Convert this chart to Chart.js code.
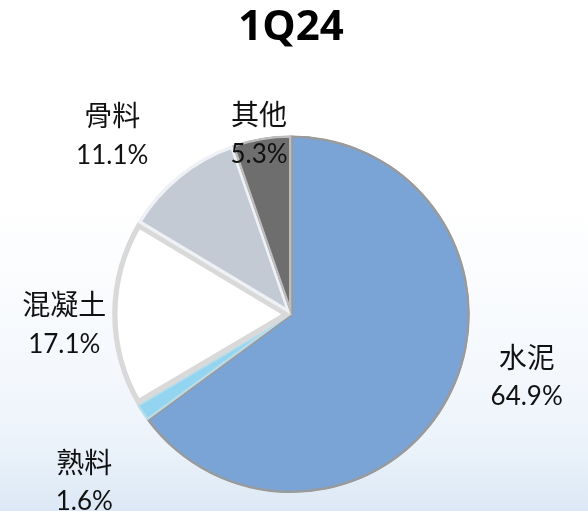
<!DOCTYPE html>
<html lang="zh-Hant">
  <head>
    <meta charset="UTF-8">
    <script src="https://cdn.jsdelivr.net/npm/chart.js"></script>
    <style>
      html, body {
        margin: 0;
        padding: 0;
      }
      body {
        width: 588px;
        height: 511px;
        background: linear-gradient(to bottom, #ffffff 0%, #ffffff 40%, #f3f7fc 75%, #eaf2fa 88%, #dce8f5 100%);
      }
      #mixChart {
        display: block;
      }
    </style>
  </head>
  <body>
    <canvas id="mixChart" width="588" height="511"></canvas>

    <script>
      // 1Q24 revenue mix
      const categories = ['水泥', '熟料', '混凝土', '骨料', '其他'];
      const shares = [64.9, 1.6, 17.1, 11.1, 5.3];
      const shareLabels = ['64.9%', '1.6%', '17.1%', '11.1%', '5.3%'];

      const sliceColors = ['#7ba4d6', '#93d5f1', '#ffffff', '#c3cad4', '#6e6e6e'];
      const sliceBorders = ['#9a9a9a', '#b8dbe8', '#d9d9d9', '#eef1f5', '#bdbdbd'];
      const sliceBorderWidths = [2, 2, 5, 3, 2];

      // label block centres, in units of the pie radius from the pie centre
      const labelSpots = [
        [1.318, 0.346],
        [-1.156, 0.933],
        [-1.268, 0.05],
        [-1.0, -1.006],
        [-0.179, -1.011]
      ];

      const labelPlugin = {
        id: 'sliceLabels',
        afterDatasetsDraw(chart) {
          const ctx = chart.ctx;
          const meta = chart.getDatasetMeta(0);
          ctx.save();
          ctx.textAlign = 'center';
          ctx.textBaseline = 'middle';
          ctx.fillStyle = '#111111';
          meta.data.forEach(function (arc, i) {
            const r = arc.outerRadius;
            const cx = arc.x + labelSpots[i][0] * r;
            const cy = arc.y + labelSpots[i][1] * r;
            ctx.font = '28px "Noto Sans CJK TC"';
            ctx.fillText(categories[i], cx, cy - 19);
            ctx.font = '26px Lato';
            ctx.fillText(shareLabels[i], cx, cy + 21);
          });
          ctx.restore();
        }
      };

      const ctx = document.getElementById('mixChart').getContext('2d');

      new Chart(ctx, {
        type: 'pie',
        data: {
          labels: categories,
          datasets: [{
            data: shares,
            backgroundColor: sliceColors,
            borderColor: sliceBorders,
            borderWidth: sliceBorderWidths,
            borderAlign: 'inner'
          }]
        },
        options: {
          responsive: false,
          animation: false,
          rotation: 0,
          layout: {
            padding: { left: 112, right: 118, top: 0, bottom: 18 }
          },
          plugins: {
            legend: { display: false },
            tooltip: { enabled: false },
            title: {
              display: true,
              text: '1Q24',
              color: '#000000',
              font: { family: 'Open Sans', size: 42, weight: 'bold' },
              padding: { top: 3, bottom: 82 }
            }
          }
        },
        plugins: [labelPlugin]
      });
    </script>
  </body>
</html>
